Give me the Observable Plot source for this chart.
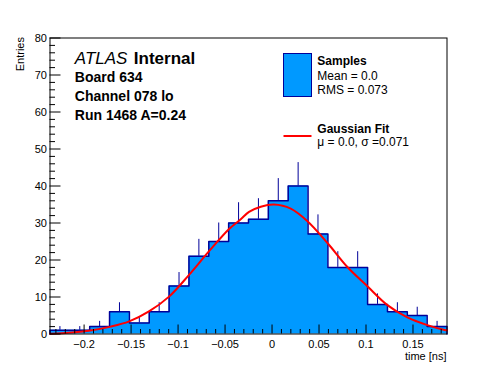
<!DOCTYPE html>
<html><head><meta charset="utf-8">
<script src="https://cdn.jsdelivr.net/npm/d3@7"></script>
<script src="https://cdn.jsdelivr.net/npm/@observablehq/plot@0.6"></script>
<style>
html,body{margin:0;padding:0;background:#fff;overflow:hidden}
svg{display:block}
</style></head><body><div id="chart"></div>
<script>
// ---- data ----
const binStart = -0.2363;
const binWidth = 0.021125;
const counts = [1, 1, 2, 6, 3, 6, 13, 21, 25, 30, 31, 36, 40, 27, 18, 18, 8, 6, 5, 2];

const fitX = [-0.2363, -0.2336, -0.195, -0.1716, -0.152, -0.131, -0.1096, -0.0883, -0.067, -0.0457, -0.0333, -0.0245, -0.012, 0.002, 0.0199, 0.0377, 0.059, 0.0802, 0.1015, 0.1228, 0.144, 0.1653, 0.1837, 0.1862];
const fitY = [0.1, 0.1, 0.9, 2.0, 3.4, 6.1, 10.1, 16.0, 22.4, 28.4, 31.0, 33.0, 34.4, 35.0, 33.9, 30.5, 24.6, 18.1, 12.9, 7.8, 4.5, 2.4, 1.1, 1.0];

const xDomain = [-0.2363, 0.1862];
const yDomain = [0, 80];
const xMajorTicks = [-0.2, -0.15, -0.1, -0.05, 0, 0.05, 0.1, 0.15];
const xTickLabels = ["\u22120.2", "\u22120.15", "\u22120.1", "\u22120.05", "0", "0.05", "0.1", "0.15"];
const xMinorTicks = [-0.23, -0.22, -0.21, -0.19, -0.18, -0.17, -0.16, -0.14, -0.13, -0.12, -0.11, -0.09, -0.08, -0.07, -0.06, -0.04, -0.03, -0.02, -0.01, 0.01, 0.02, 0.03, 0.04, 0.06, 0.07, 0.08, 0.09, 0.11, 0.12, 0.13, 0.14, 0.16, 0.17, 0.18];
const yMajorTicks = [0, 10, 20, 30, 40, 50, 60, 70, 80];
const yTickLabels = ["0", "10", "20", "30", "40", "50", "60", "70", "80"];
const yMinorTicks = [2,4,6,8,12,14,16,18,22,24,26,28,32,34,36,38,42,44,46,48,52,54,56,58,62,64,66,68,72,74,76,78];

const xTitle = "time [ns]";
const yTitle = "Entries";
const infoLines = ["Board 634", "Channel 078 lo", "Run 1468 A=0.24"];
const legendSamples = ["Samples", "Mean = 0.0", "RMS = 0.073"];
const legendFit = ["Gaussian Fit", "\u03bc = 0.0, \u03c3 =0.071"];

// ---- derived tables ----
const edges = counts.map((c, i) => binStart + i * binWidth);
const lastEdge = binStart + counts.length * binWidth;
const fillPts = counts.map((c, i) => ({x: edges[i], y: c})).concat([{x: lastEdge, y: counts[counts.length - 1]}]);
const outlinePts = [{x: edges[0], y: 0}].concat(counts.map((c, i) => ({x: edges[i], y: c})), [{x: lastEdge, y: 0}]);
const errBars = counts.map((c, i) => ({x: edges[i] + binWidth / 2, y1: c, y2: c + Math.sqrt(c)}));
const fitPts = fitX.map((x, i) => ({x, y: fitY[i]}));

const W = 496, H = 372;
const mL = 49.5, mR = 49.5, mT = 37.5, mB = 38.5;
const fw = W - mL - mR, fh = H - mT - mB;
const FILL = "#0099ff", LINE = "#000099";
const font = "'Liberation Sans', Arial, Helvetica, sans-serif";
const infoBaselines = [81.2, 100.2, 119.2];

const plot = Plot.plot({
  width: W, height: H,
  marginLeft: mL, marginRight: mR, marginTop: mT, marginBottom: mB,
  style: {fontFamily: font, background: "#fff", color: "#000", overflow: "visible"},
  x: {domain: xDomain, axis: null},
  y: {domain: yDomain, axis: null},
  marks: [
    Plot.areaY(fillPts, {x: "x", y: "y", curve: "step-after", fill: FILL}),
    Plot.ruleX(errBars, {x: "x", y1: "y1", y2: "y2", stroke: LINE, strokeWidth: 1}),
    Plot.line(outlinePts, {x: "x", y: "y", curve: "step-after", stroke: LINE, strokeWidth: 1.5}),
    Plot.line(fitPts, {x: "x", y: "y", curve: "catmull-rom", stroke: "#ff0000", strokeWidth: 2}),
    Plot.tickX(xMajorTicks, {x: d => d, stroke: "#000", insetTop: fh - 9}),
    Plot.tickX(xMinorTicks, {x: d => d, stroke: "#000", insetTop: fh - 4.5}),
    Plot.tickY(yMajorTicks, {y: d => d, stroke: "#000", insetRight: fw - 11}),
    Plot.tickY(yMinorTicks, {y: d => d, stroke: "#000", insetRight: fw - 5.5}),
    Plot.frame({stroke: "#000", strokeWidth: 1}),
    Plot.text(xMajorTicks, {x: d => d, text: (d, i) => xTickLabels[i], frameAnchor: "bottom", lineAnchor: "bottom", dy: 13.5, fontSize: 11, fill: "#000"}),
    Plot.text(yMajorTicks, {y: d => d, text: (d, i) => yTickLabels[i], frameAnchor: "left", textAnchor: "end", dx: -3, fontSize: 11, fill: "#000"}),
    Plot.text([xTitle], {text: d => d, frameAnchor: "bottom-right", textAnchor: "end", lineAnchor: "bottom", dy: 26, dx: -0.5, fontSize: 11, fill: "#000"}),
    Plot.text(["ATLAS"], {text: d => d, frameAnchor: "top-left", textAnchor: "start", lineAnchor: "bottom", dx: 24.8, dy: 63.3 - mT, fontSize: 17, fontStyle: "italic", fill: "#000"}),
    Plot.text(["Internal"], {text: d => d, frameAnchor: "top-left", textAnchor: "start", lineAnchor: "bottom", dx: 83.8, dy: 63.3 - mT, fontSize: 17, fontWeight: "bold", fill: "#000"}),
    ...infoLines.map((s, i) => Plot.text([s], {text: d => d, frameAnchor: "top-left", textAnchor: "start", lineAnchor: "bottom", dx: 24.8, dy: infoBaselines[i] - mT, fontSize: 14, fontWeight: "bold", fill: "#000"}))
  ]
});
document.getElementById("chart").appendChild(plot);

const svg = d3.select(plot);

// y title
svg.append("text")
  .attr("transform", "translate(23.8,37) rotate(-90)")
  .attr("text-anchor", "end")
  .attr("font-size", 11)
  .attr("fill", "#000")
  .text(yTitle);

// legend
const lg = svg.append("g").attr("font-size", 12).attr("fill", "#000").attr("text-anchor", "start");
lg.append("rect").attr("x", 283.5).attr("y", 53.5).attr("width", 28).attr("height", 43)
  .attr("fill", FILL).attr("stroke", LINE).attr("stroke-width", 1);
lg.append("line").attr("x1", 283.5).attr("x2", 311.5).attr("y1", 136).attr("y2", 136)
  .attr("stroke", "#ff0000").attr("stroke-width", 2);
const sBase = [65, 80, 94];
legendSamples.forEach((s, i) => lg.append("text").attr("x", 317.3).attr("y", sBase[i])
  .attr("text-anchor", "start").attr("font-weight", i === 0 ? "bold" : null).text(s));
const fBase = [132.5, 145.5];
legendFit.forEach((s, i) => lg.append("text").attr("x", 317.3).attr("y", fBase[i])
  .attr("text-anchor", "start").attr("font-weight", i === 0 ? "bold" : null).text(s));
</script>
</body></html>
